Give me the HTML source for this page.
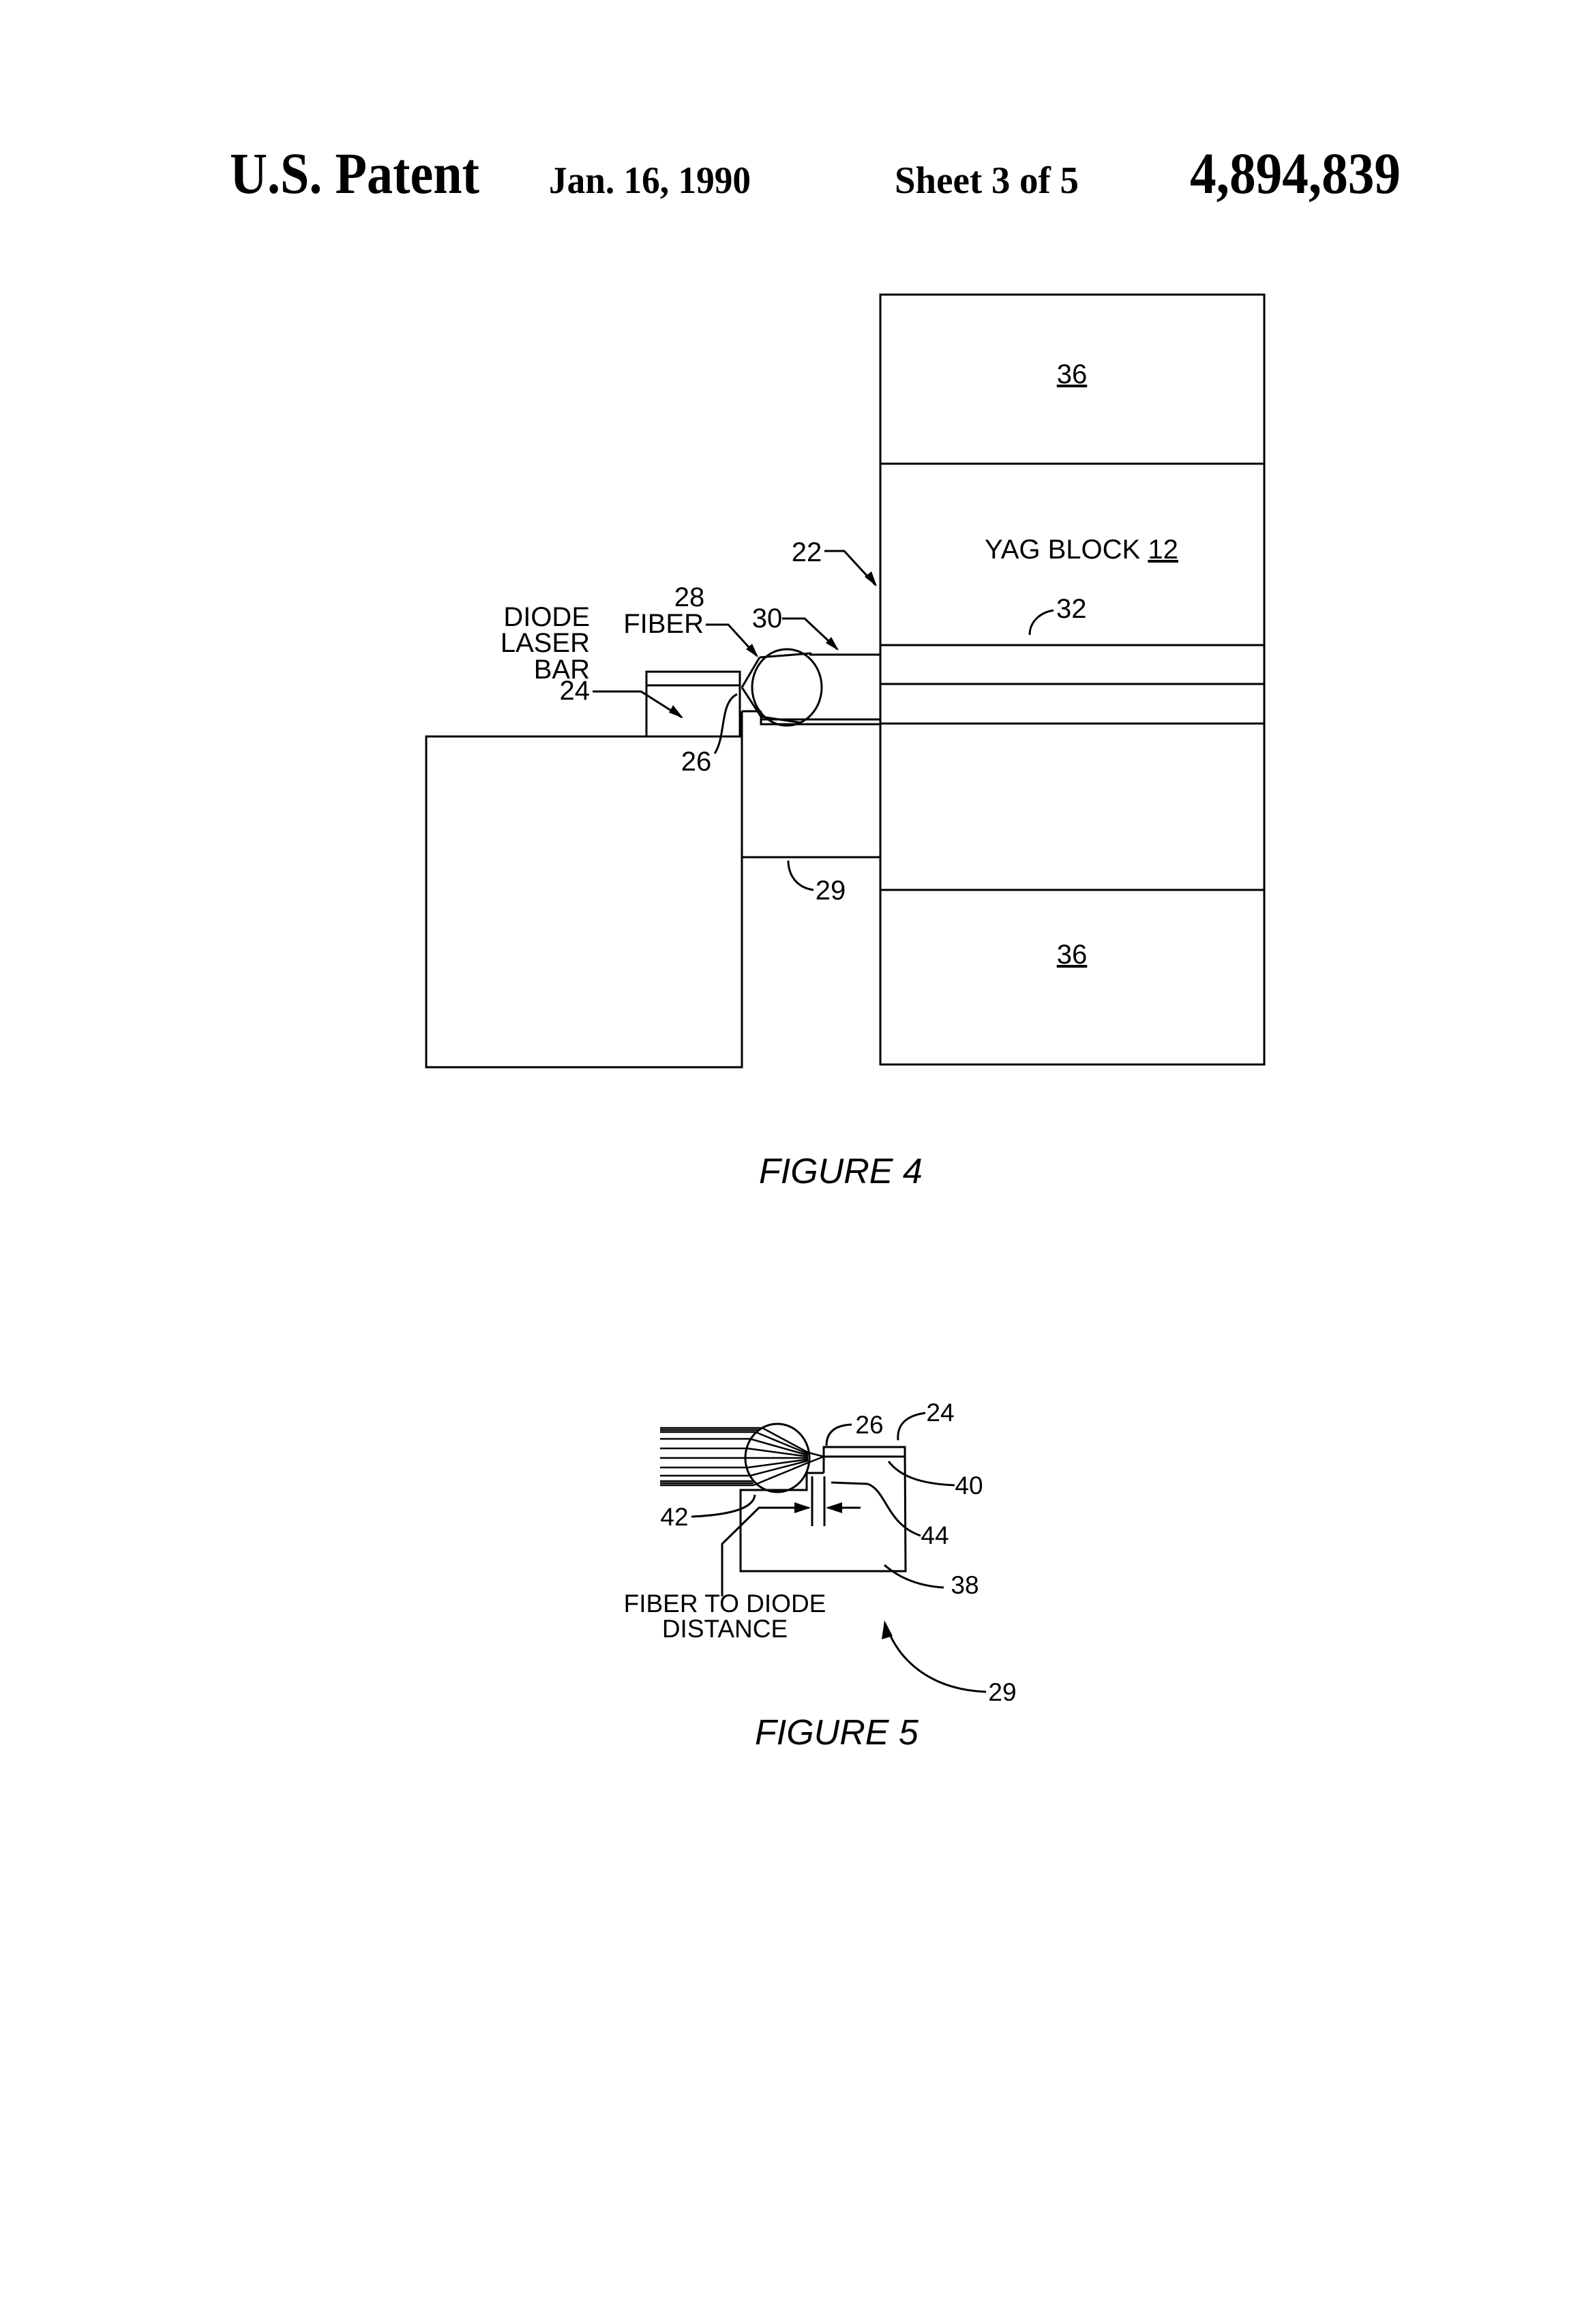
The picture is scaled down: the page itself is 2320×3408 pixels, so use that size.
<!DOCTYPE html>
<html><head><meta charset="utf-8"><style>
html,body{margin:0;padding:0;background:#fff;}
svg{display:block;}
.s{font-family:"Liberation Sans",sans-serif;fill:#000;}
.h{font-family:"Liberation Serif",serif;font-weight:bold;fill:#000;}
</style></head><body>
<svg width="2320" height="3408" viewBox="0 0 2320 3408" xmlns="http://www.w3.org/2000/svg">
<rect width="2320" height="3408" fill="#fff"/>
<!-- header -->
<text class="h" x="337" y="283" font-size="86" textLength="366" lengthAdjust="spacingAndGlyphs">U.S. Patent</text>
<text class="h" x="805" y="283" font-size="56" textLength="296" lengthAdjust="spacingAndGlyphs">Jan. 16, 1990</text>
<text class="h" x="1312" y="283" font-size="56" textLength="270" lengthAdjust="spacingAndGlyphs">Sheet 3 of 5</text>
<text class="h" x="1745" y="283" font-size="86" textLength="309" lengthAdjust="spacingAndGlyphs">4,894,839</text>

<g stroke="#000" stroke-width="3" fill="none">
<!-- FIG 4 -->
<rect x="1291" y="432" width="563" height="1129"/>
<line x1="1291" y1="680" x2="1854" y2="680"/>
<line x1="1291" y1="946" x2="1854" y2="946"/>
<line x1="1291" y1="1003" x2="1854" y2="1003"/>
<line x1="1291" y1="1061" x2="1854" y2="1061"/>
<line x1="1291" y1="1305" x2="1854" y2="1305"/>
<rect x="625" y="1080" width="463" height="485"/>
<rect x="948" y="985" width="137" height="95"/>
<line x1="948" y1="1005" x2="1085" y2="1005"/>
<line x1="1088" y1="1043" x2="1088" y2="1257"/>
<line x1="1088" y1="1257" x2="1291" y2="1257"/>
<line x1="1088" y1="1043" x2="1116" y2="1043"/>
<polyline points="1116,1043 1116,1062 1291,1062"/>
<line x1="1116" y1="1055" x2="1291" y2="1055"/>
<line x1="1187" y1="960" x2="1291" y2="960"/>
<ellipse cx="1154" cy="1008" rx="51" ry="56"/>
<line x1="1088" y1="1008" x2="1114" y2="964"/>
<line x1="1114" y1="964" x2="1190" y2="958"/>
<line x1="1088" y1="1008" x2="1116" y2="1051"/>
<line x1="1116" y1="1051" x2="1176" y2="1060"/>
<!-- leaders fig 4 -->
<path d="M1209,808 L1238,808 L1284,858"/>
<path d="M1035,916 L1068,916 L1110,962"/>
<path d="M1147,907 L1180,907 L1228,952"/>
<path d="M1510,931 C1510,912 1525,898 1545,895"/>
<path d="M869,1014 L940,1014 L1000,1052"/>
<path d="M1048,1105 C1065,1080 1055,1030 1081,1018"/>
<path d="M1156,1262 C1156,1285 1170,1302 1193,1305"/>
</g>
<g fill="#000">
<polygon points="1286,860 1268,846 1278,838"/>
<polygon points="1112,964 1094,952 1103,944"/>
<polygon points="1230,954 1211,943 1219,934"/>
<polygon points="1002,1053 981,1045 987,1034"/>
</g>
<g class="s" font-size="40">
<text x="1572" y="562" text-anchor="middle" text-decoration="underline">36</text>
<text x="1572" y="1413" text-anchor="middle" text-decoration="underline">36</text>
<text x="1444" y="819">YAG BLOCK <tspan text-decoration="underline">12</tspan></text>
<text x="1183" y="823" text-anchor="middle">22</text>
<text x="1549" y="906">32</text>
<text x="1011" y="889" text-anchor="middle">28</text>
<text x="1032" y="928" text-anchor="end">FIBER</text>
<text x="1125" y="920" text-anchor="middle">30</text>
<text x="865" y="918" text-anchor="end">DIODE</text>
<text x="865" y="956" text-anchor="end">LASER</text>
<text x="865" y="995" text-anchor="end">BAR</text>
<text x="865" y="1026" text-anchor="end">24</text>
<text x="1021" y="1130" text-anchor="middle">26</text>
<text x="1218" y="1319" text-anchor="middle">29</text>
</g>
<text class="s" x="1113" y="1735" font-size="52" font-style="italic">FIGURE  4</text>

<!-- FIG 5 -->
<g stroke="#000" stroke-width="3" fill="none">
<ellipse cx="1140" cy="2138" rx="47" ry="50"/>
<g stroke-width="2.5">
<line x1="968" y1="2094" x2="1118" y2="2094"/>
<line x1="968" y1="2097" x2="1112" y2="2097"/>
<line x1="968" y1="2100" x2="1108" y2="2100"/>
<line x1="968" y1="2110" x2="1100" y2="2110"/>
<line x1="968" y1="2124" x2="1096" y2="2124"/>
<line x1="968" y1="2138" x2="1095" y2="2138"/>
<line x1="968" y1="2152" x2="1097" y2="2152"/>
<line x1="968" y1="2164" x2="1100" y2="2164"/>
<line x1="968" y1="2172" x2="1105" y2="2172"/>
<line x1="968" y1="2175" x2="1105" y2="2175"/>
<line x1="968" y1="2178" x2="1105" y2="2178"/>
<line x1="1118" y1="2094" x2="1185" y2="2130"/>
<line x1="1108" y1="2100" x2="1185" y2="2132"/>
<line x1="1100" y1="2110" x2="1185" y2="2134"/>
<line x1="1096" y1="2124" x2="1185" y2="2136"/>
<line x1="1095" y1="2138" x2="1185" y2="2138"/>
<line x1="1097" y1="2152" x2="1185" y2="2140"/>
<line x1="1100" y1="2164" x2="1185" y2="2142"/>
<line x1="1105" y1="2178" x2="1185" y2="2145"/>
<line x1="1185" y1="2130" x2="1208" y2="2136"/>
<line x1="1185" y1="2145" x2="1208" y2="2136"/>
</g>
<polyline points="1208,2160 1208,2122 1327,2122 1328,2304 1086,2304 1086,2185 1183,2185 1183,2160 1208,2160"/>
<line x1="1208" y1="2136" x2="1327" y2="2136"/>
<line x1="1191" y1="2165" x2="1191" y2="2238"/>
<line x1="1209" y1="2165" x2="1209" y2="2238"/>
<polyline points="1059,2341 1059,2264 1113,2211 1186,2211"/>
<line x1="1214" y1="2211" x2="1262" y2="2211"/>
<path d="M1212,2120 C1212,2100 1225,2090 1249,2089"/>
<path d="M1317,2112 C1315,2090 1328,2076 1357,2072"/>
<path d="M1303,2143 C1320,2165 1350,2176 1400,2178"/>
<path d="M1219,2174 L1272,2176 C1300,2185 1300,2235 1350,2252"/>
<path d="M1297,2295 C1320,2315 1350,2326 1384,2328"/>
<path d="M1107,2192 C1105,2215 1060,2222 1014,2224"/>
<path d="M1446,2481 C1370,2478 1320,2440 1300,2385"/>
</g>
<g fill="#000">
<polygon points="1189,2211 1165,2203 1165,2219"/>
<polygon points="1211,2211 1235,2203 1235,2219"/>
<polygon points="1297,2376 1293,2404 1309,2399"/>
</g>
<g class="s" font-size="37">
<text x="1275" y="2102" text-anchor="middle">26</text>
<text x="1379" y="2084" text-anchor="middle">24</text>
<text x="1421" y="2191" text-anchor="middle">40</text>
<text x="1371" y="2264" text-anchor="middle">44</text>
<text x="1415" y="2337" text-anchor="middle">38</text>
<text x="989" y="2237" text-anchor="middle">42</text>
<text x="1470" y="2494" text-anchor="middle">29</text>
<text x="1063" y="2364" text-anchor="middle">FIBER TO DIODE</text>
<text x="1063" y="2401" text-anchor="middle">DISTANCE</text>
</g>
<text class="s" x="1107" y="2558" font-size="52" font-style="italic">FIGURE  5</text>
</svg>
</body></html>
